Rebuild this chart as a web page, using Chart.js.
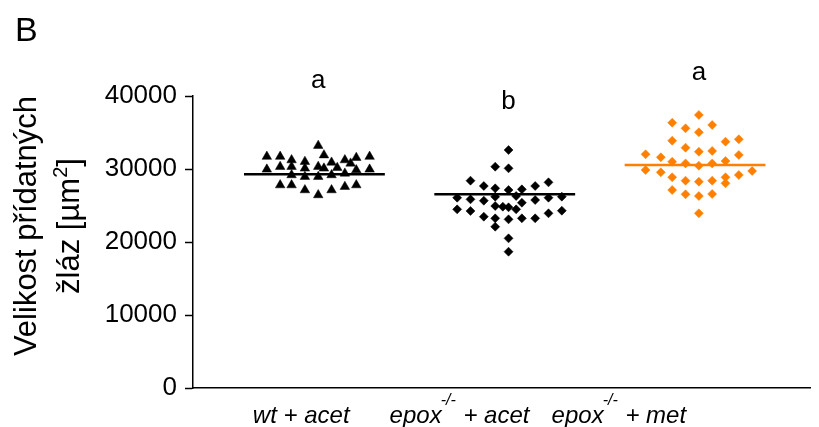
<!DOCTYPE html>
<html>
  <head>
    <title>Velikost přídatných žláz</title>
    <script src="https://cdn.jsdelivr.net/npm/chart.js"></script>
    <style>
      body {
        margin: 0;
        padding: 0;
        background: #fff;
      }
    </style>
  </head>
  <body>
    <canvas id="glandChart" width="819" height="427"></canvas>
    <script>
      // --- Data ---
      const groupMain = ["wt", "epox", "epox"];
      const groupSup = ["", "-/-", "-/-"];
      const groupRest = [" + acet", " + acet", " + met"];
      const sigLetters = ["a", "b", "a"];
      const sigLevels = [41100, 38200, 42200];   // where each letter sits (y units)
      const meanLine = [29270, 26530, 30550];
      const yTicks = [0, 10000, 20000, 30000, 40000];

      // wt + acet (triangles), jitter is in category units
      const wtJitter = [-0.27, -0.27, -0.2, -0.2, -0.2, -0.14, -0.14, -0.14, -0.14,
        -0.07, -0.07, -0.07, -0.07, 0, 0, 0, 0, 0.03, 0.03, 0.07, 0.07, 0.07, 0.1,
        0.14, 0.14, 0.14, 0.17, 0.2, 0.2, 0.2, 0.27, 0.27];
      const wtValues = [31700, 29950, 31700, 30320, 27800, 31230, 30320, 29180, 27800,
        31000, 30090, 28950, 27120, 33200, 30320, 28950, 26440, 31900, 30090, 30900, 29180, 27120, 30180,
        31230, 29400, 27580, 30770, 31550, 29860, 27800, 31700, 29950];

      // epox-/- + acet (black diamonds)
      const acetJitter = [0, -0.07, 0, -0.2, -0.13, -0.07, 0, 0.07, 0.14, 0.21,
        -0.27, -0.2, -0.13, -0.07, 0.04, 0.07, 0.14, 0.21, 0.28,
        -0.07, -0.03, 0, 0.04, -0.27, -0.2, -0.13, -0.07, 0, 0.07, 0.14, 0.21, 0.28,
        -0.07, 0, 0];
      const acetValues = [32600, 30320, 30090, 28400, 27670, 27350, 27120, 27210, 27670, 28170,
        26070, 25840, 25660, 26210, 26300, 25380, 25750, 26070, 26210,
        24930, 24840, 24750, 24470, 24470, 24250, 23470, 23240, 23100, 23240, 23240, 23930, 24290,
        22100, 20500, 18670];

      // epox-/- + met (orange diamonds)
      const metJitter = [0, -0.14, -0.07, 0, 0.07,
        -0.14, -0.07, 0, 0.07, 0.14, 0.21,
        -0.28, -0.2, -0.14, -0.07, 0, 0.07, 0.14, 0.21,
        -0.28, -0.2, -0.14, -0.07, 0, 0.07, 0.14, 0.14, 0.21, 0.28,
        -0.14, -0.07, 0, 0.07, 0];
      const metValues = [37400, 36340, 35570, 35030, 36030,
        33880, 32920, 32370, 32470, 33750, 34070,
        32010, 31600, 31000, 30770, 30450, 30770, 31100, 31920,
        29860, 29540, 28860, 28400, 28260, 28400, 28860, 28040, 29180, 29730,
        27120, 26530, 26300, 26580, 23930];

      // --- Styling ---
      const FONT = "'Liberation Sans', Arial, sans-serif";
      const BLACK = "#000";
      const ORANGE = "#ff8000";
      const groupColors = [BLACK, BLACK, ORANGE];
      const groupShapes = ["triangle", "rectRot", "rectRot"];
      const groupRadius = [5.5, 4.5, 4.5];
      const labelShift = [-17, -49, -80];   // px, x labels sit left of the groups
      const lineFrom = -0.39, lineTo = 0.35;

      const pointSets = [
        [wtJitter, wtValues],
        [acetJitter, acetValues],
        [metJitter, metValues]
      ];

      const datasets = [];
      // mean lines first so they are drawn on top of the points
      meanLine.forEach((m, i) => {
        datasets.push({
          data: [{ x: i + 1 + lineFrom, y: m }, { x: i + 1 + lineTo, y: m }],
          showLine: true,
          pointRadius: 0,
          borderColor: groupColors[i],
          borderWidth: 2.5,
          order: 0
        });
      });
      pointSets.forEach(([jit, vals], i) => {
        datasets.push({
          data: vals.map((v, k) => ({ x: i + 1 + jit[k], y: v })),
          pointStyle: groupShapes[i],
          pointRadius: groupRadius[i],
          backgroundColor: groupColors[i],
          borderColor: groupColors[i],
          borderWidth: 0.5,
          order: 1
        });
      });

      // --- Extra text: panel letter, y title, x labels, significance letters ---
      const annotate = {
        id: "annotate",
        afterDraw(chart) {
          const ctx = chart.ctx;
          const xs = chart.scales.x, ys = chart.scales.y;
          ctx.save();
          ctx.fillStyle = BLACK;

          ctx.font = "34px " + FONT;
          ctx.textAlign = "left";
          ctx.textBaseline = "alphabetic";
          ctx.fillText("B", 15, 41);

          // y title, two rotated lines
          ctx.save();
          ctx.translate(0, 226);
          ctx.rotate(-Math.PI / 2);
          ctx.font = "31px " + FONT;
          ctx.textAlign = "center";
          ctx.fillText("Velikost přídatných", 0, 36);
          const a = "žláz [µm", b = "]";
          const wa = ctx.measureText(a).width, wb = ctx.measureText(b).width;
          ctx.font = "20px " + FONT;
          const ws = ctx.measureText("2").width;
          let x0 = -(wa + ws + wb) / 2;
          ctx.textAlign = "left";
          ctx.font = "31px " + FONT;
          ctx.fillText(a, x0, 79);
          ctx.font = "20px " + FONT;
          ctx.fillText("2", x0 + wa, 67);
          ctx.font = "31px " + FONT;
          ctx.fillText(b, x0 + wa + ws, 79);
          ctx.restore();

          // x labels with superscripts
          groupMain.forEach((m, i) => {
            const big = "italic 24px " + FONT, small = "italic 16px " + FONT;
            ctx.font = big;
            const w1 = ctx.measureText(m).width, w3 = ctx.measureText(groupRest[i]).width;
            ctx.font = small;
            const w2 = ctx.measureText(groupSup[i]).width;
            let x = xs.getPixelForValue(i + 1) + labelShift[i] - (w1 + w2 + w3) / 2;
            ctx.textAlign = "left";
            ctx.font = big;
            ctx.fillText(m, x, 423);
            ctx.font = small;
            ctx.fillText(groupSup[i], x + w1 - 1, 405);
            ctx.font = big;
            ctx.fillText(groupRest[i], x + w1 + w2, 423);
          });

          // significance letters
          ctx.font = "26px " + FONT;
          ctx.textAlign = "center";
          sigLetters.forEach((s, i) => {
            ctx.fillText(s, xs.getPixelForValue(i + 1), ys.getPixelForValue(sigLevels[i]));
          });
          ctx.restore();
        }
      };

      const ctx = document.getElementById("glandChart").getContext("2d");
      new Chart(ctx, {
        type: "scatter",
        data: { datasets: datasets },
        options: {
          responsive: false,
          animation: false,
          layout: { padding: { left: 0, right: 9, top: 96, bottom: 0 } },
          plugins: {
            legend: { display: false },
            tooltip: { enabled: false }
          },
          scales: {
            x: {
              type: "linear",
              min: 0.342,
              max: 3.584,
              afterFit(scale) { scale.height = 39; },
              ticks: { display: false },
              grid: { display: false, drawTicks: false },
              border: { color: BLACK, width: 1.5 }
            },
            y: {
              min: 0,
              max: 40000,
              afterFit(scale) { scale.width = 193; },
              afterBuildTicks(scale) { scale.ticks = yTicks.map(v => ({ value: v })); },
              ticks: {
                color: BLACK,
                padding: 8,
                font: { family: FONT, size: 26 },
                callback: v => String(v)
              },
              grid: {
                drawOnChartArea: false,
                drawTicks: true,
                tickLength: 8,
                tickColor: BLACK,
                tickWidth: 1.5
              },
              border: { color: BLACK, width: 1.5 }
            }
          }
        },
        plugins: [annotate]
      });
    </script>
  </body>
</html>
